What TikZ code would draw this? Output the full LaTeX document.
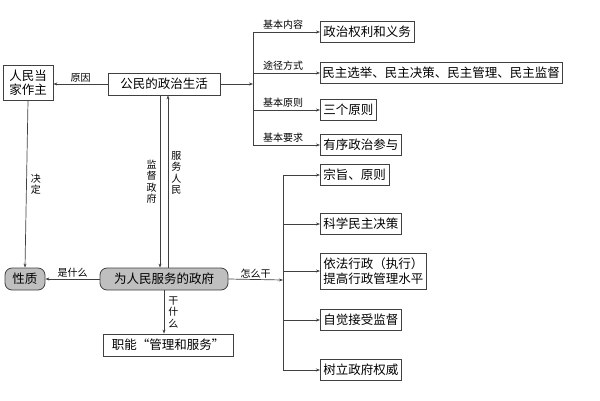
\documentclass[tikz,border=0pt]{standalone}
\usepackage{fontspec}
\setmainfont{Noto Sans CJK SC}
\usetikzlibrary{arrows.meta}
\begin{document}
\begin{tikzpicture}[x=1pt,y=-1pt,
  box/.style={draw=black!75,line width=0.8pt,inner sep=3pt,font=\fontsize{12.5}{14}\selectfont},
  gbox/.style={box,fill=black!25,rounded corners=7pt},
  lab/.style={font=\fontsize{10}{11}\selectfont,inner sep=1pt},
  vlab/.style={lab,align=center,font=\fontsize{10}{11.5}\selectfont},
  ln/.style={draw=black!75,line width=0.7pt},
  ar/.style={ln,-{Stealth[length=4pt,width=3pt]}}]
\useasboundingbox (0,0) rectangle (600,400);
% nodes
\node[box,align=center,minimum width=50,minimum height=35,inner sep=1pt,font=\fontsize{12.5}{14}\selectfont] (rm) at (28,83) {人民当\\家作主};
\node[box,minimum width=112,minimum height=22] (gm) at (164,84) {公民的政治生活};
\node[gbox,minimum width=128,minimum height=22] (zf) at (164,279) {为人民服务的政府};
\node[gbox,minimum width=40,minimum height=22] (xz) at (25,279) {性质};
\node[box,minimum width=130,minimum height=22] (zn) at (168,345) {职能“管理和服务”};
% upper boxes
\node[box,anchor=west,minimum height=21] (a1) at (320,32) {政治权利和义务};
\node[box,anchor=west,minimum height=21,inner sep=2pt] (a2) at (320,73) {民主选举、民主决策、民主管理、民主监督};
\node[box,anchor=west,minimum height=21] (a3) at (320,110) {三个原则};
\node[box,anchor=west,minimum height=21] (a4) at (320,145) {有序政治参与};
% lower boxes
\node[box,anchor=west,minimum height=21] (b1) at (320,175) {宗旨、原则};
\node[box,anchor=west,minimum height=21] (b2) at (320,224) {科学民主决策};
\node[box,anchor=west,align=left,minimum height=36,font=\fontsize{12.5}{15}\selectfont] (b3) at (320,271) {依法行政（执行）\\提高行政管理水平};
\node[box,anchor=west,minimum height=21] (b4) at (320,320) {自觉接受监督};
\node[box,anchor=west,minimum height=21] (b5) at (320,370) {树立政府权威};
\coordinate (ja) at (253,84);
\coordinate (jb) at (283,280);
% main connectors
\draw[ar] (gm.west) -- node[lab,above]{原因} (rm.east|-gm.west);
\draw[ar] (gm.east) -- (ja);
\draw[ar] (rm.south) -- node[vlab,right=3pt]{决\\定} (xz.north);
\draw[ar] (zf.west) -- node[lab,above]{是什么} (xz.east);
\draw[ar] ([xshift=-4pt]gm.south) -- node[vlab,left=2pt,pos=0.5]{监\\督\\政\\府} ([xshift=-4pt]zf.north);
\draw[ar] ([xshift=4pt]zf.north) -- node[vlab,right=2pt,pos=0.55]{服\\务\\人\\民} ([xshift=4pt]gm.south);
\draw[ar] (zf.south) -- node[vlab,right=3pt]{干\\什\\么} (zn.north-|zf.south);
\draw[ar] (zf.east) -- node[lab,above]{怎么干} (jb);
% upper bracket
\draw[ln] (ja|-a1) -- (ja|-a4);
\foreach \n/\t in {a1/基本内容,a2/途径方式,a3/基本原则,a4/基本要求}
  \draw[ar] (ja|-\n.west) -- node[lab,above=1pt,pos=0.45]{\t} (\n.west);
% lower bracket
\draw[ln] (jb|-b1) -- (jb|-b5);
\foreach \n in {b1,b2,b3,b4,b5}
  \draw[ar] (jb|-\n.west) -- (\n.west);
\end{tikzpicture}
\end{document}
